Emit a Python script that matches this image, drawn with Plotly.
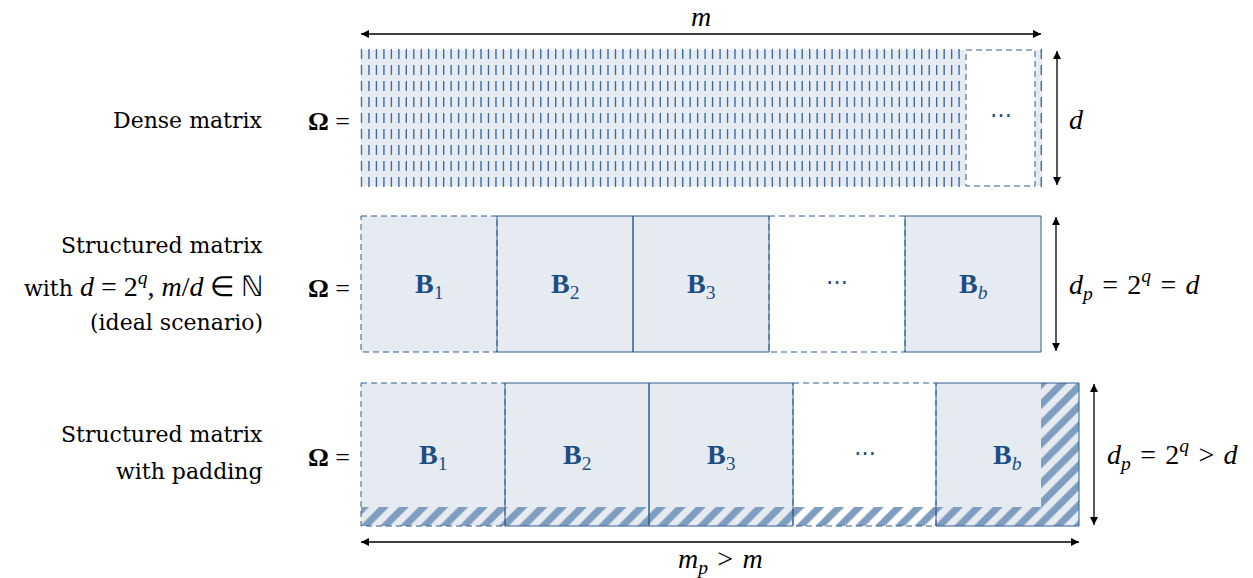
import numpy as np
import plotly.graph_objects as go

# ---------------- content ----------------
MATH = "Liberation Serif"
TEXT = "DejaVu Serif"
SP = "\u2004"  # three-per-em space, mimics TeX spacing around relations


def m(s):
    return f'<span style="font-family:{MATH};font-size:28px">{s}</span>'


row_labels_dense = ["Dense matrix"]
row_labels_ideal = ["Structured matrix",
                    "with " + m("<i>d</i> = 2<sup><i>q</i></sup>, <i>m</i>/<i>d</i> ∈ ℕ"),
                    "(ideal scenario)"]
row_labels_pad = ["Structured matrix", "with padding"]
block_labels = ["<b>B</b><sub>1</sub>", "<b>B</b><sub>2</sub>", "<b>B</b><sub>3</sub>", "⋯", "<b>B</b><sub><i>b</i></sub>"]
block_kind = ["dashed", "solid", "solid", "gap", "solid"]
label_m = "<i>m</i>"
label_d = "<i>d</i>"
label_dp_ideal = f"<i>d</i><sub><i>p</i></sub>{SP}={SP}2<sup><i>q</i></sup>{SP}={SP}<i>d</i>"
label_dp_pad = f"<i>d</i><sub><i>p</i></sub>{SP}={SP}2<sup><i>q</i></sup>{SP}&gt;{SP}<i>d</i>"
label_mp = f"<i>m</i><sub><i>p</i></sub>{SP}&gt;{SP}<i>m</i>"
omega = "<b>Ω</b> ="

# ---------------- geometry (pixel space of the canvas) ----------------
W, H = 1253, 578
dense_x = [361, 1042]
dense_y = [50, 186]
dense_gap_x = [966, 1035]
dense_col_step = 7.47
dense_rows = 9
ideal_edges = [361, 497, 633, 769, 905, 1041]
ideal_y = [216, 352]
pad_edges = [361, 505, 649, 793, 936, 1079]
pad_y = [383, 526]
pad_band_top = 507
pad_right_x = 1041

FILL = "#e6ebf2"
EDGE = "#2f5f91"
TXT_BLUE = "#1d4e83"
HATCH = "#7f9dbf"
DASH_COL = "#3a6c9f"

fig = go.Figure()
shapes = []
annotations = []


def rect(x0, x1, y0, y1, fill=None, line=None, dash=None, layer="below", width=1):
    d = dict(type="rect", xref="x", yref="y", x0=x0, x1=x1, y0=y0, y1=y1, layer=layer)
    d["fillcolor"] = fill if fill else "rgba(0,0,0,0)"
    if line:
        d["line"] = dict(color=line, width=width, dash=dash or "solid")
    else:
        d["line"] = dict(width=0)
    shapes.append(d)


def text(x, y, s, size=22, color="black", xanchor="center", family=TEXT):
    annotations.append(dict(x=x, y=y, xref="x", yref="y", text=s, showarrow=False,
                            xanchor=xanchor, yanchor="middle",
                            font=dict(family=family, size=size, color=color)))


def arrow(x0, y0, x1, y1):
    fig.add_trace(go.Scatter(x=[x0, x1], y=[y0, y1], mode="lines", hoverinfo="skip",
                             line=dict(color="black", width=1.3)))
    if y0 == y1:
        syms = ["arrow-left", "arrow-right"]
    else:
        syms = ["arrow-up", "arrow-down"]
    fig.add_trace(go.Scatter(x=[x0, x1], y=[y0, y1], mode="markers", hoverinfo="skip",
                             marker=dict(symbol=syms, size=8, color="black",
                                         line=dict(width=0))))


# ---------------- row 1: dense matrix ----------------
rect(dense_x[0], dense_x[1], dense_y[0], dense_y[1], fill=FILL)
rect(dense_gap_x[0], dense_gap_x[1], dense_y[0], dense_y[1], fill="white")
cols = dense_x[0] + 0.5 + dense_col_step * np.arange(int((dense_x[1] - dense_x[0]) / dense_col_step) + 1)
cols = cols[(cols < dense_gap_x[0] - 2) | (cols > dense_gap_x[1] + 2)]
row_step = (dense_y[1] - dense_y[0] - 8) / (dense_rows - 1)
rows = dense_y[0] + 4 + row_step * np.arange(dense_rows)
gx, gy = np.meshgrid(cols, rows)
fig.add_trace(go.Scatter(x=gx.ravel(), y=gy.ravel(), mode="markers", hoverinfo="skip",
                         marker=dict(symbol="line-ns", size=7,
                                     line=dict(width=1.4, color=DASH_COL))))
rect(dense_gap_x[0], dense_gap_x[1], dense_y[0], dense_y[1], line=EDGE, dash="6px,4px", layer="above")
text((dense_gap_x[0] + dense_gap_x[1]) / 2, 114, "⋯", size=22, color=TXT_BLUE)
arrow(dense_x[0], 34, dense_x[1] - 1, 34)
text(701, 16, label_m, size=28, family=MATH)
arrow(1057, dense_y[0] + 1, 1057, dense_y[1] - 1)
text(1076, 119, label_d, size=28, family=MATH)
text(265, 120, row_labels_dense[0], xanchor="right")
text(352, 121, omega, xanchor="right", size=26, family=MATH)


# ---------------- rows 2 & 3: block matrices ----------------
def block_row(edges, ys, label_y):
    y0, y1 = ys
    for i, kind in enumerate(block_kind):
        a, b = edges[i], edges[i + 1]
        if kind != "gap":
            rect(a, b, y0, y1, fill=FILL)
    for i, kind in enumerate(block_kind):
        a, b = edges[i], edges[i + 1]
        if kind in ("dashed", "gap"):
            rect(a, b, y0, y1, line=EDGE, dash="6px,4px", layer="above")
    for i, kind in enumerate(block_kind):
        a, b = edges[i], edges[i + 1]
        if kind == "solid":
            rect(a, b, y0, y1, line=EDGE, layer="above")
    for i, lab in enumerate(block_labels):
        a, b = edges[i], edges[i + 1]
        if lab == "⋯":
            text((a + b) / 2, label_y - 4, lab, size=22, color=TXT_BLUE)
        else:
            text((a + b) / 2, label_y, lab, size=28, color=TXT_BLUE, family=MATH)


block_row(ideal_edges, ideal_y, 285)
arrow(1056, ideal_y[0] + 1, 1056, ideal_y[1] - 1)
text(1067, 284, label_dp_ideal, xanchor="left", size=28, family=MATH)
text(265, 245, row_labels_ideal[0], xanchor="right")
text(265, 284, row_labels_ideal[1], xanchor="right")
text(265, 322, row_labels_ideal[2], xanchor="right")
text(352, 288, omega, xanchor="right", size=26, family=MATH)

block_row(pad_edges, pad_y, 456)
# padding hatch
hatch = dict(color="rgba(255,255,255,0)", line=dict(width=0),
             pattern=dict(shape="/", fgcolor=HATCH, fgopacity=1, bgcolor="rgba(255,255,255,0)",
                          size=14, solidity=0.5, fillmode="replace"))
fig.add_trace(go.Bar(x=[(pad_edges[0] + pad_edges[-1]) / 2], y=[pad_y[1] - pad_band_top],
                     base=[pad_band_top], width=[pad_edges[-1] - pad_edges[0]],
                     marker=hatch, hoverinfo="skip"))
fig.add_trace(go.Bar(x=[(pad_right_x + pad_edges[-1]) / 2], y=[pad_band_top - pad_y[0]],
                     base=[pad_y[0]], width=[pad_edges[-1] - pad_right_x],
                     marker=hatch, hoverinfo="skip"))
arrow(1094, pad_y[0] + 1, 1094, pad_y[1] - 1)
text(1105, 454, label_dp_pad, xanchor="left", size=28, family=MATH)
arrow(pad_edges[0], 542, pad_edges[-1], 542)
text(720, 560, label_mp, size=28, family=MATH)
text(265, 434, row_labels_pad[0], xanchor="right")
text(265, 471, row_labels_pad[1], xanchor="right")
text(352, 457, omega, xanchor="right", size=26, family=MATH)

fig.update_layout(
    width=W, height=H, margin=dict(l=0, r=0, t=0, b=0),
    paper_bgcolor="white", plot_bgcolor="white", showlegend=False,
    barmode="overlay", bargap=0,
    xaxis=dict(range=[0, W], visible=False, fixedrange=True),
    yaxis=dict(range=[H, 0], visible=False, fixedrange=True),
    shapes=shapes, annotations=annotations,
)
fig.write_html("out.html", config={"displayModeBar": False},
               post_script="document.body.style.margin='0';document.body.style.overflow='hidden';")
